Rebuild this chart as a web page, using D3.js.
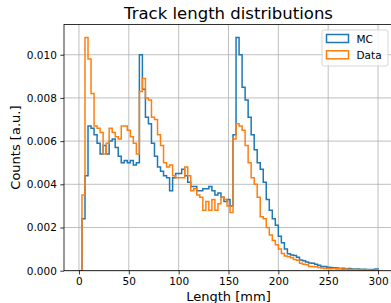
<!DOCTYPE html>
<html>
<head>
<meta charset="utf-8">
<script src="https://cdn.jsdelivr.net/npm/d3@7"></script>
<style>
body { margin: 0; background: #fff; }
text { font-family: 'DejaVu Sans', sans-serif; fill: #000; }
</style>
</head>
<body>
<div id="chart"></div>
<script>
// histogram binning: 99 equal bins between 0 and 300 mm
var binStart = 0, binEnd = 300, binCount = 99;

// bin heights
var mcCounts = [
    0, 0.0024, 0.0044, 0.0067, 0.0066, 0.0063, 0.0059, 0.0054, 0.0058, 0.0054,
    0.0060, 0.0061, 0.0057, 0.0053, 0.0050, 0.0051, 0.0050, 0.0051, 0.0049, 0.0050,
    0.0100, 0.0084, 0.0071, 0.0068, 0.0059, 0.0053, 0.0048, 0.0046, 0.0044, 0.0043,
    0.0037, 0.0043, 0.0045, 0.0045, 0.0047, 0.0044, 0.0041, 0.0039, 0.0039, 0.0037,
    0.0037, 0.0038, 0.0038, 0.0039, 0.0037, 0.0035, 0.0036, 0.0034, 0.0032, 0.0033,
    0.0030, 0.0063, 0.0108, 0.0100, 0.0085, 0.0079, 0.0071, 0.0063, 0.0056, 0.0050,
    0.0047, 0.0041, 0.0033, 0.0028, 0.0024, 0.0021, 0.0016, 0.0013, 0.0010, 0.00078,
    0.00073, 0.00070, 0.00062, 0.00050, 0.00046, 0.00040, 0.00036, 0.00035, 0.00030, 0.00025,
    0.00020, 0.00019, 0.00016, 0.00015, 0.00014, 0.00012, 0.00010, 0.00011, 0.00009, 0.00010,
    0.00008, 0.00007, 0.00008, 0.00006, 0.00007, 0.00006, 0.00005, 0.00006, 0.00008
];
var dataCounts = [
    0, 0.0035, 0.0108, 0.0098, 0.0082, 0.0067, 0.0066, 0.0064, 0.0054, 0.0059,
    0.0066, 0.0064, 0.0062, 0.0061, 0.0067, 0.0067, 0.0065, 0.0062, 0.0059, 0.0054,
    0.0083, 0.0089, 0.0080, 0.0079, 0.0071, 0.0070, 0.0063, 0.0058, 0.0050, 0.0048,
    0.0049, 0.0044, 0.0043, 0.0043, 0.0043, 0.0048, 0.0044, 0.0037, 0.0038, 0.0035,
    0.0034, 0.0028, 0.0032, 0.0028, 0.0033, 0.0028, 0.0031, 0.0034, 0.0033, 0.0030,
    0.0027, 0.0061, 0.0068, 0.0067, 0.0065, 0.0058, 0.0050, 0.0043, 0.0040, 0.0034,
    0.0025, 0.0024, 0.0020, 0.00165, 0.0014, 0.0012, 0.0010, 0.0008, 0.00068, 0.00065,
    0.00060, 0.00052, 0.00048, 0.00034, 0.00030, 0.00028, 0.00020, 0.00019, 0.00018, 0.00015,
    0.00013, 0.00010, 0.00010, 0.00009, 0.00010, 0.00008, 0.00009, 0.00007, 0.00008, 0.00006,
    0.00005, 0.00005, 0.00004, 0.00005, 0.00003, 0.00004, 0.00003, 0.00002, 0.00003
];

var xTicks = [0, 50, 100, 150, 200, 250, 300];
var yTicks = [0, 0.002, 0.004, 0.006, 0.008, 0.010];
var seriesNames = ['MC', 'Data'];
var seriesColors = ['#1f77b4', '#ff7f0e'];

var width = 391, height = 303;
var margin = {left: 64, top: 24.5, right: -2, bottom: 32.3};
var plotW = width - margin.left - margin.right;
var plotH = height - margin.top - margin.bottom;

var x = d3.scaleLinear().domain([-15, 315]).range([0, plotW]);
var y = d3.scaleLinear().domain([0, 0.0114]).range([plotH, 0]);
var f3 = d3.format('.3f');

var binEdges = d3.range(binCount + 1).map(function(k){
    return binStart + k * (binEnd - binStart) / binCount;
});

var svg = d3.select('#chart')
    .append('svg')
    .attr('width', width)
    .attr('height', height);

svg.append('defs').append('clipPath')
    .attr('id', 'plotclip')
    .append('rect')
    .attr('width', plotW)
    .attr('height', plotH);

var g = svg.append('g')
    .attr('transform', 'translate(' + margin.left + ',' + margin.top + ')');

//Grid lines
g.append('g').selectAll('line.gx')
    .data(xTicks)
    .enter()
    .append('line')
    .attr('x1', function(d){ return x(d); })
    .attr('x2', function(d){ return x(d); })
    .attr('y1', 0)
    .attr('y2', plotH)
    .style('stroke', '#b0b0b0')
    .style('stroke-width', 0.8);
g.append('g').selectAll('line.gy')
    .data(yTicks)
    .enter()
    .append('line')
    .attr('x1', 0)
    .attr('x2', plotW)
    .attr('y1', function(d){ return y(d); })
    .attr('y2', function(d){ return y(d); })
    .style('stroke', '#b0b0b0')
    .style('stroke-width', 0.8);

//Step outline of a histogram
function stepPoints(counts){
    var pts = [[binEdges[0], 0]];
    counts.forEach(function(v, i){
        pts.push([binEdges[i], v]);
        pts.push([binEdges[i + 1], v]);
    });
    pts.push([binEdges[binCount], 0]);
    return pts;
}
var line = d3.line()
    .x(function(d){ return x(d[0]); })
    .y(function(d){ return y(d[1]); });

g.append('g')
    .attr('clip-path', 'url(#plotclip)')
    .selectAll('path')
    .data([mcCounts, dataCounts])
    .enter()
    .append('path')
    .attr('d', function(d){ return line(stepPoints(d)); })
    .style('fill', 'none')
    .style('stroke', function(d, i){ return seriesColors[i]; })
    .style('stroke-width', 1.5)
    .style('stroke-linejoin', 'miter');

//Axes
var xAxis = g.append('g')
    .attr('transform', 'translate(0,' + plotH + ')')
    .call(d3.axisBottom(x).tickValues(xTicks).tickSize(3.7).tickPadding(3.5));
var yAxis = g.append('g')
    .call(d3.axisLeft(y).tickValues(yTicks).tickFormat(f3).tickSize(3.7).tickPadding(3.5));
[xAxis, yAxis].forEach(function(ax){
    ax.select('.domain').remove();
    ax.selectAll('line').style('stroke', '#000').style('stroke-width', 0.8);
    ax.selectAll('text')
        .style('font-size', '10.5px')
        .style('font-family', "'DejaVu Sans', sans-serif");
});

//Spines
g.append('rect')
    .attr('width', plotW)
    .attr('height', plotH)
    .style('fill', 'none')
    .style('stroke', '#000')
    .style('stroke-width', 0.8);

//Title and labels
svg.append('text')
    .attr('x', margin.left + plotW / 2)
    .attr('y', 18.5)
    .attr('text-anchor', 'middle')
    .style('font-size', '16.5px')
    .text('Track length distributions');
svg.append('text')
    .attr('x', margin.left + plotW / 2)
    .attr('y', 301)
    .attr('text-anchor', 'middle')
    .style('font-size', '13px')
    .text('Length [mm]');
svg.append('text')
    .attr('transform', 'translate(20,' + (margin.top + plotH / 2) + ') rotate(-90)')
    .attr('text-anchor', 'middle')
    .style('font-size', '13px')
    .text('Counts [a.u.]');

//Legend
var legend = svg.append('g').attr('transform', 'translate(322,30)');
legend.append('rect')
    .attr('width', 66)
    .attr('height', 36)
    .attr('rx', 2)
    .style('fill', '#fff')
    .style('fill-opacity', 0.8)
    .style('stroke', '#cccccc')
    .style('stroke-width', 0.8);
var items = legend.selectAll('g.item')
    .data(seriesNames)
    .enter()
    .append('g')
    .attr('transform', function(d, i){ return 'translate(4.5,' + (4.5 + i * 16.3) + ')'; });
items.append('rect')
    .attr('width', 22)
    .attr('height', 8)
    .style('fill', 'none')
    .style('stroke', function(d, i){ return seriesColors[i]; })
    .style('stroke-width', 1.5);
items.append('text')
    .attr('x', 30)
    .attr('y', 8.3)
    .style('font-size', '10.5px')
    .text(function(d){ return d; });
</script>
</body>
</html>
